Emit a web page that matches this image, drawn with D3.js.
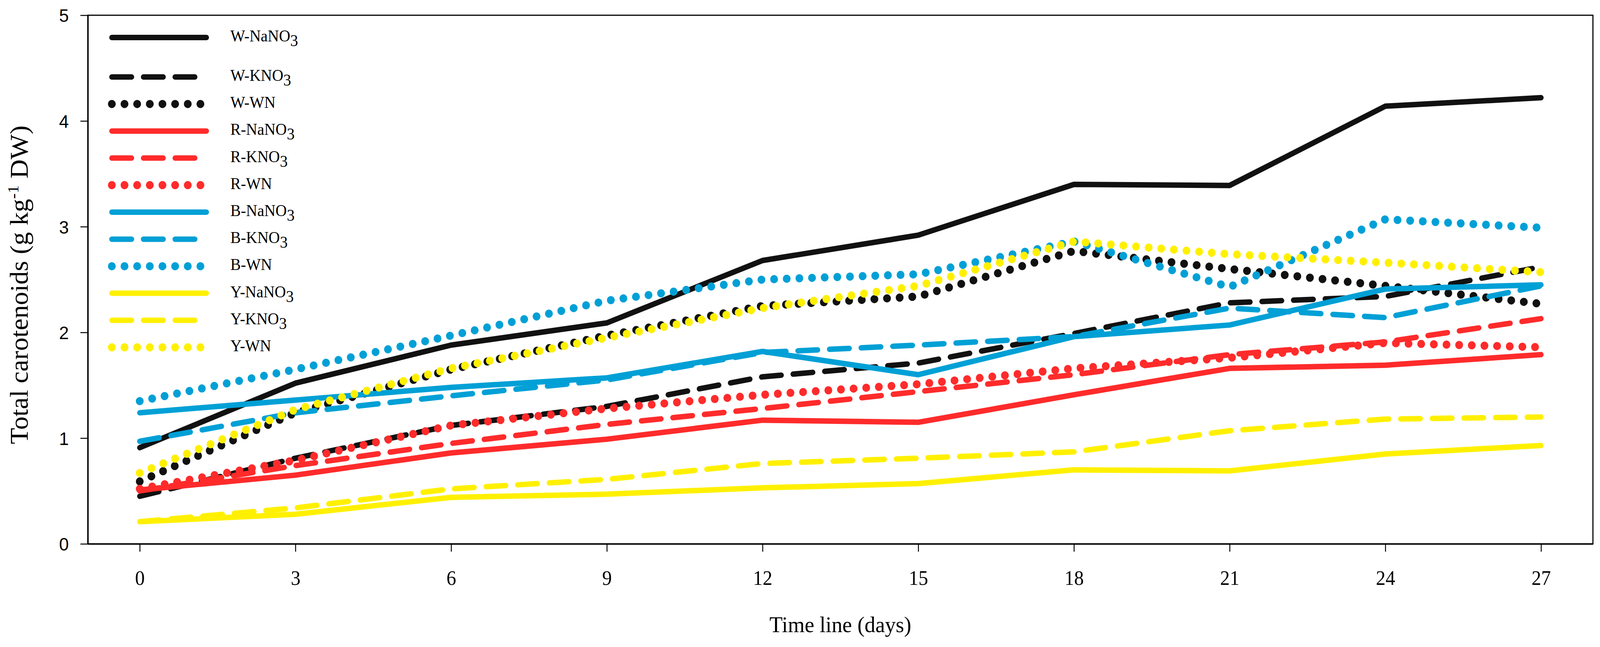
<!DOCTYPE html>
<html>
<head>
<meta charset="utf-8">
<script src="https://cdn.jsdelivr.net/npm/d3@7"></script>
<style>
  html, body { margin: 0; padding: 0; width: 100%; height: 100%; overflow: hidden; background: #fff; }
  #chart { display: block; width: 100vw; height: 100vh; }
  .axis path, .axis line { stroke: #000; }
  .serif { font-family: "Liberation Serif", "Times New Roman", serif; }
</style>
</head>
<body>
<svg id="chart" viewBox="0 0 4299 1656" preserveAspectRatio="none"></svg>
<script>
// days on the x axis
var days = [0, 3, 6, 9, 12, 15, 18, 21, 24, 27];
var xTicks = [0, 3, 6, 9, 12, 15, 18, 21, 24, 27];
var yTicks = [0, 1, 2, 3, 4, 5];

// total carotenoids (g kg-1 DW)
var wNaNO3 = [0.91, 1.52, 1.88, 2.09, 2.68, 2.92, 3.40, 3.39, 4.14, 4.22];
var wKNO3 = [0.45, 0.81, 1.12, 1.30, 1.58, 1.71, 1.99, 2.28, 2.34, 2.62];
var wWN = [0.59, 1.24, 1.65, 1.97, 2.25, 2.34, 2.77, 2.60, 2.44, 2.27];
var rNaNO3 = [0.51, 0.65, 0.86, 0.99, 1.17, 1.15, 1.41, 1.66, 1.69, 1.79];
var rKNO3 = [0.50, 0.74, 0.95, 1.13, 1.28, 1.44, 1.60, 1.79, 1.91, 2.13];
var rWN = [0.52, 0.79, 1.12, 1.28, 1.41, 1.51, 1.66, 1.76, 1.90, 1.86];
var bNaNO3 = [1.24, 1.36, 1.48, 1.57, 1.82, 1.60, 1.96, 2.07, 2.41, 2.45];
var bKNO3 = [0.97, 1.24, 1.40, 1.55, 1.81, 1.88, 1.96, 2.23, 2.14, 2.44];
var bWN = [1.35, 1.65, 1.97, 2.30, 2.50, 2.55, 2.86, 2.43, 3.07, 2.99];
var yNaNO3 = [0.21, 0.28, 0.44, 0.47, 0.53, 0.57, 0.70, 0.69, 0.85, 0.93];
var yKNO3 = [0.21, 0.34, 0.52, 0.61, 0.76, 0.81, 0.87, 1.07, 1.18, 1.20];
var yWN = [0.67, 1.27, 1.66, 1.95, 2.23, 2.44, 2.86, 2.74, 2.66, 2.57];

// legend names: prefix + salt (salt "NO3" gets a subscript 3)
var prefixes = ["W-", "W-", "W-", "R-", "R-", "R-", "B-", "B-", "B-", "Y-", "Y-", "Y-"];
var salts = ["NaNO3", "KNO3", "WN", "NaNO3", "KNO3", "WN", "NaNO3", "KNO3", "WN", "NaNO3", "KNO3", "WN"];
var seriesValues = [wNaNO3, wKNO3, wWN, rNaNO3, rKNO3, rWN, bNaNO3, bKNO3, bWN, yNaNO3, yKNO3, yWN];

var colors = { "W-": "#111111", "R-": "#ff2b2b", "B-": "#00a0d6", "Y-": "#fff000" };
var styles = {
    "NaNO3": { width: 14, dash: null },
    "KNO3": { width: 14, dash: "53 32" },
    "WN": { width: 21, dash: "0 34" }
};

// drawing is done in a 4299x1656 box, stretched to whatever the window is
var W = 4299, H = 1656;
var svg = d3.select("#chart"),
    margin = { top: 39, right: 19, bottom: 264, left: 236 },
    width = W - margin.left - margin.right,
    height = H - margin.top - margin.bottom;

var x = d3.scaleLinear().domain([-1, 28]).range([0, width]);
var y = d3.scaleLinear().domain([0, 5]).range([height, 0]);

var g = svg.append("g")
    .attr("transform", "translate(" + margin.left + "," + margin.top + ")");

// frame (top and right)
g.append("rect")
    .attr("x", 0).attr("y", 0)
    .attr("width", width).attr("height", height)
    .attr("fill", "none").attr("stroke", "#000").attr("stroke-width", 3);

var line = d3.line()
    .x(function (d) { return x(d.day); })
    .y(function (d) { return y(d.value); });

seriesValues.forEach(function (vals, i) {
    var st = styles[salts[i]];
    var pts = days.map(function (d, j) { return { day: d, value: vals[j] }; });
    g.append("path")
        .attr("d", line(pts))
        .attr("fill", "none")
        .attr("stroke", colors[prefixes[i]])
        .attr("stroke-width", st.width)
        .attr("stroke-linecap", "round")
        .attr("stroke-linejoin", "round")
        .attr("stroke-dasharray", st.dash);
});

// axes
var xAxis = g.append("g")
    .attr("class", "axis")
    .attr("transform", "translate(0," + height + ")")
    .call(d3.axisBottom(x).tickValues(xTicks).tickFormat(d3.format("d")).tickSize(20).tickSizeOuter(0));
xAxis.select(".domain").attr("stroke-width", 3.5);
xAxis.selectAll(".tick line").attr("stroke-width", 2.5);
xAxis.selectAll(".tick text")
    .attr("class", "serif")
    .attr("y", 105).attr("dy", null)
    .attr("font-size", 52).attr("fill", "#000");

var yAxis = g.append("g")
    .attr("class", "axis")
    .call(d3.axisLeft(y).tickValues(yTicks).tickFormat(d3.format("d")).tickSize(20).tickSizeOuter(0));
yAxis.select(".domain").attr("stroke-width", 3.5);
yAxis.selectAll(".tick line").attr("stroke-width", 2.5);
yAxis.selectAll(".tick text")
    .attr("x", -51).attr("dy", "0.36em")
    .attr("font-family", "'Liberation Sans', Arial, sans-serif")
    .attr("font-size", 47).attr("fill", "#000");

// axis titles
var yTitle = svg.append("text")
    .attr("class", "serif")
    .attr("transform", "translate(75,729) rotate(-90)")
    .attr("text-anchor", "middle")
    .attr("font-size", 68);
yTitle.append("tspan").text("Total carotenoids (g kg");
yTitle.append("tspan").attr("dy", -26).attr("font-size", 42).text("-1");
yTitle.append("tspan").attr("dy", 26).text(" DW)");

svg.append("text")
    .attr("class", "serif")
    .attr("x", 2258).attr("y", 1618)
    .attr("text-anchor", "middle")
    .attr("font-size", 58)
    .text("Time line (days)");

// legend
var legend = svg.append("g");
seriesValues.forEach(function (vals, i) {
    var st = styles[salts[i]];
    var ry = i === 0 ? 96 : 197 + (i - 1) * 69.2;
    legend.append("line")
        .attr("x1", 300.5).attr("x2", st.dash ? 550 : 554.5)
        .attr("y1", ry).attr("y2", ry)
        .attr("stroke", colors[prefixes[i]])
        .attr("stroke-width", st.width)
        .attr("stroke-linecap", "round")
        .attr("stroke-dasharray", st.dash);
    var t = legend.append("text")
        .attr("class", "serif")
        .attr("x", 619).attr("y", ry + 10)
        .attr("font-size", 42);
    var s = salts[i];
    if (s.slice(-1) === "3") {
        t.append("tspan").text(prefixes[i] + s.slice(0, -1));
        t.append("tspan").attr("dy", 12).text("3");
    } else {
        t.append("tspan").text(prefixes[i] + s);
    }
});
</script>
</body>
</html>
